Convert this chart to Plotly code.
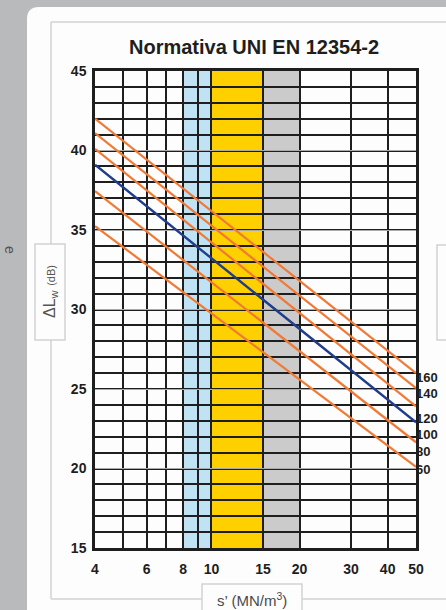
import plotly.graph_objects as go
import math

# ---------------- data ----------------
s_ends = [4, 50]                                   # s' (MN/m3) at the two ends of each line
orange_start = [42.0, 41.1, 40.1, 37.45, 35.25]   # dB at s'=4
orange_end = [26.0, 25.05, 23.9, 21.65, 20.1]     # dB at s'=50
blue_start = [39.1]
blue_end = [22.9]

label_text = ["160", "140", "120", "100", "80", "60"]
label_y = [25.63, 24.62, 23.05, 22.04, 20.97, 19.84]

band_lo = [8, 10, 15]
band_hi = [10, 15, 20]
band_color = ["#bfe3f5", "#fed000", "#cbcbcb"]

x_major = [4, 6, 8, 10, 15, 20, 30, 40, 50]
x_minor = [5, 7, 9]
y_major = [15, 20, 25, 30, 35, 40, 45]
y_minor = list(range(15, 46))

# ---------------- layout geometry ----------------
W, H = 446, 610
L, R, T, B = 95, 416, 71, 548
PW, PH = R - L, B - T


def px(x):
    return (x - L) / PW


def py(y):
    return (B - y) / PH


fig = go.Figure()

ORANGE = "#f07a35"
BLUE = "#1f3d8a"

for a, b in zip(orange_start, orange_end):
    fig.add_trace(go.Scatter(x=s_ends, y=[a, b], mode="lines",
                             line=dict(color=ORANGE, width=2.2), showlegend=False,
                             hoverinfo="skip"))
for a, b in zip(blue_start, blue_end):
    fig.add_trace(go.Scatter(x=s_ends, y=[a, b], mode="lines",
                             line=dict(color=BLUE, width=2.4), showlegend=False,
                             hoverinfo="skip"))

fig.add_trace(go.Scatter(x=[50] * len(label_text), y=label_y, mode="text",
                         text=label_text, textposition="middle right",
                         textfont=dict(family="Liberation Sans", size=13, color="#1e1e1e",
                                       weight="bold"),
                         cliponaxis=False, showlegend=False, hoverinfo="skip"))

shapes = []
# white card with rounded corner
r = 12
card_path = (f"M {px(27)},{py(640)} L {px(27)},{py(7 + r)} "
             f"Q {px(27)},{py(7)} {px(27 + r)},{py(7)} "
             f"L {px(480)},{py(7)} L {px(480)},{py(640)} Z")
shapes.append(dict(type="path", xref="paper", yref="paper", path=card_path,
                   fillcolor="#fdfdfd", line=dict(width=0), layer="below"))

FR = "#d2d2d2"
for (x0, y0, x1, y1) in [(51, 22, 480, 22), (51, 22, 51, 244), (51, 340, 51, 599),
                         (51, 599, 202, 599), (302, 599, 480, 599)]:
    shapes.append(dict(type="line", xref="paper", yref="paper",
                       x0=px(x0), y0=py(y0), x1=px(x1), y1=py(y1),
                       line=dict(color=FR, width=1.5), layer="below"))
for (x0, y0, x1, y1) in [(35, 244, 65, 340), (202, 584, 302, 640), (437, 245, 480, 340)]:
    shapes.append(dict(type="rect", xref="paper", yref="paper",
                       x0=px(x0), y0=py(y0), x1=px(x1), y1=py(y1),
                       fillcolor="#fdfdfd", line=dict(color=FR, width=1.5), layer="below"))

# coloured bands
for lo, hi, c in zip(band_lo, band_hi, band_color):
    shapes.append(dict(type="rect", xref="x", yref="y", x0=lo, x1=hi, y0=15, y1=45,
                       fillcolor=c, line=dict(width=0), layer="below"))

annotations = [
    dict(text="<b>Normativa UNI EN 12354-2</b>", xref="paper", yref="paper",
         x=px(254), y=py(47), showarrow=False, xanchor="center", yanchor="middle",
         font=dict(family="Liberation Sans", size=20, color="#1e1e1e")),
    dict(text="ΔL<sub>w</sub> <span style='font-size:11px'>(dB)</span>",
         xref="paper", yref="paper", x=px(50), y=py(292), showarrow=False,
         textangle=-90, xanchor="center", yanchor="middle",
         font=dict(family="Liberation Sans", size=16, color="#555555")),
    dict(text="s’ (MN/m<sup>3</sup>)", xref="paper", yref="paper",
         x=px(252), y=py(599), showarrow=False, xanchor="center", yanchor="middle",
         font=dict(family="Liberation Sans", size=15, color="#4a4a4a")),
    dict(text="e", xref="paper", yref="paper", x=px(10), y=py(250), showarrow=False,
         textangle=90, xanchor="center", yanchor="middle",
         font=dict(family="Liberation Sans", size=14, color="#555555")),
]

TF = dict(family="Liberation Sans", size=14, color="#1e1e1e", weight="bold")

fig.update_layout(
    width=W, height=H,
    margin=dict(l=L, r=W - R, t=T, b=H - B),
    paper_bgcolor="#b9babc",
    plot_bgcolor="#ffffff",
    shapes=shapes,
    annotations=annotations,
    xaxis=dict(type="log", range=[math.log10(4), math.log10(50)],
               tickmode="array", tickvals=x_major,
               showgrid=True, gridcolor="#1e1e1e", gridwidth=1.5,
               minor=dict(tickmode="array", tickvals=x_minor, showgrid=True,
                          gridcolor="#1e1e1e", gridwidth=1.5, ticks=""),
               showline=True, mirror=True, linecolor="#1e1e1e", linewidth=2.5,
               ticks="", ticklabelstandoff=6, tickfont=TF, zeroline=False),
    yaxis=dict(range=[15, 45], tickmode="array", tickvals=y_major,
               showgrid=True, gridcolor="#aaaaaa", gridwidth=1,
               minor=dict(tickmode="array", tickvals=y_minor, showgrid=True,
                          gridcolor="#1e1e1e", gridwidth=1.5, ticks=""),
               showline=True, mirror=True, linecolor="#1e1e1e", linewidth=2.5,
               ticks="", ticklabelstandoff=3, tickfont=TF, zeroline=False),
)

fig.write_html("out.html",
               config={"displayModeBar": False},
               post_script="document.body.style.margin='0';"
                           "document.body.style.overflow='hidden';")
